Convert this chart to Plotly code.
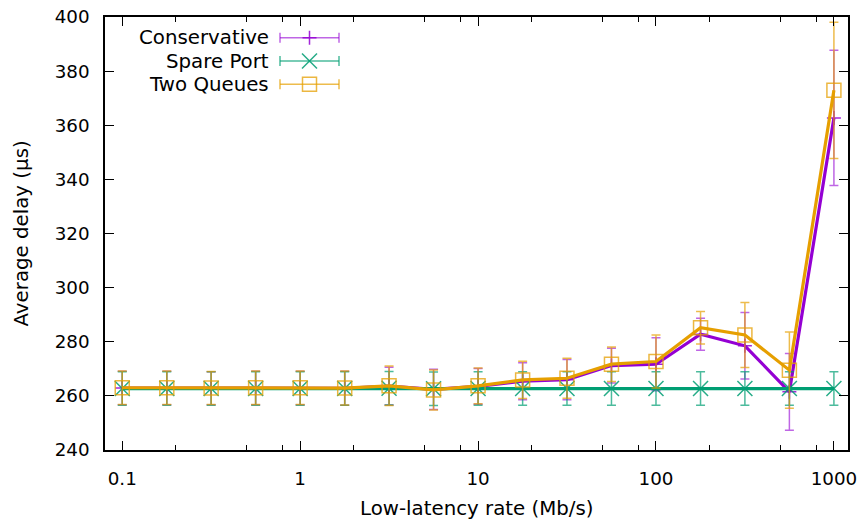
import plotly.graph_objects as go

# ---- data ----
rates = [0.1, 0.178, 0.316, 0.562, 1, 1.78, 3.16, 5.62, 10, 17.8, 31.6, 56.2,
         100, 178, 316, 562, 1000]

conservative = [262.9, 262.9, 262.8, 262.9, 262.9, 262.8, 263.6, 262.4, 263.5,
                265.4, 266.0, 271.2, 271.7, 282.8, 278.5, 261.5, 362.7]
conservative_err = [6.2, 6.2, 6.1, 6.2, 6.2, 6.3, 7.0, 7.4, 6.6,
                    6.8, 7.4, 6.4, 9.8, 5.9, 12.3, 14.2, 25.0]

spare_port = [262.7, 262.7, 262.7, 262.7, 262.7, 262.7, 262.8, 262.6, 262.7,
              262.7, 262.7, 262.7, 262.7, 262.7, 262.7, 262.7, 262.7]
spare_port_err = [6.2, 6.2, 6.2, 6.2, 6.2, 6.2, 6.2, 6.2, 6.2,
                  6.2, 6.2, 6.2, 6.2, 6.2, 6.2, 6.2, 6.2]

two_queues = [263.0, 263.0, 262.9, 263.0, 263.0, 262.9, 263.7, 262.2, 263.7,
              265.9, 266.5, 271.7, 272.7, 285.2, 282.5, 269.5, 372.9]
two_queues_err = [6.2, 6.2, 6.1, 6.2, 6.2, 6.3, 7.3, 7.4, 6.6,
                  6.9, 7.4, 6.4, 9.8, 6.0, 12.0, 14.1, 25.2]

series_names = ["Conservative", "Spare Port", "Two Queues"]
x_tickvals = [0.1, 1, 10, 100, 1000]
x_ticktext = ["0.1", "1", "10", "100", "1000"]
x_minor = [0.2, 0.5, 0.8, 2, 5, 8, 20, 50, 80, 200, 500, 800]
y_tickvals = [240, 260, 280, 300, 320, 340, 360, 380, 400]

# ---- styles ----
FONT = "DejaVu Sans"
FS = 19.8
TFS = 18.3
styles = [
    dict(line="#9400d3", err="rgba(148,0,211,0.6)", mark="rgba(148,0,211,0.85)",
         symbol="cross-thin", size=10),
    dict(line="#009e73", err="rgba(0,158,115,0.7)", mark="rgba(0,158,115,0.85)",
         symbol="x-thin", size=15),
    dict(line="#e69f00", err="rgba(230,159,0,0.7)", mark="rgba(230,159,0,0.75)",
         symbol="square-open", size=14),
]
values = [conservative, spare_port, two_queues]
errors = [conservative_err, spare_port_err, two_queues_err]

fig = go.Figure()
for name, v, e, s in zip(series_names, values, errors, styles):
    fig.add_trace(go.Scatter(
        x=rates, y=v, name=name, mode="lines+markers",
        line=dict(color=s["line"], width=3.2),
        marker=dict(symbol=s["symbol"], size=s["size"], color=s["mark"],
                    line=dict(color=s["mark"], width=1.5)),
        error_y=dict(type="data", array=e, visible=True, color=s["err"],
                     thickness=1.5, width=4.5),
        showlegend=False,
    ))

# ---- geometry (body margin removed in post_script) ----
W, H = 861, 519
PL, PR, PT, PB = 105, 848, 17, 450      # plot area in screen pixels
L, R, T, B = PL, W - PR, PT, H - PB
pw, ph = PR - PL, PB - PT
def px(xp):
    return (xp - PL) / pw
def py(yp):
    return (PB - yp) / ph

text_x = px(271)
line_x0, line_x1 = px(280), px(339)
mid_x = (line_x0 + line_x1) / 2
rows = [37.7, 61.0, 84.3]
cap = 5 / ph

shapes = []
for s, ry in zip(styles, rows):
    yy = py(ry)
    shapes.append(dict(type="line", xref="paper", yref="paper",
                       x0=line_x0, x1=line_x1, y0=yy, y1=yy,
                       line=dict(color=s["err"], width=1.5)))
    for xx in (line_x0, line_x1):
        shapes.append(dict(type="line", xref="paper", yref="paper",
                           x0=xx, x1=xx, y0=yy - cap, y1=yy + cap,
                           line=dict(color=s["err"], width=1.5)))
    fig.add_trace(go.Scatter(
        x=[mid_x], y=[yy], xaxis="x2", yaxis="y2", mode="markers",
        marker=dict(symbol=s["symbol"], size=s["size"], color=s["mark"],
                    line=dict(color=s["mark"], width=1.5)),
        showlegend=False, hoverinfo="skip"))

annotations = []
for name, ry in zip(series_names, rows):
    annotations.append(dict(text=name, xref="paper", yref="paper",
                            x=text_x, y=py(ry), xanchor="right", yanchor="middle",
                            showarrow=False, font=dict(family=FONT, size=FS, color="black")))
annotations.append(dict(text="Low-latency rate (Mb/s)", xref="paper", yref="paper",
                        x=0.5, y=py(508), xanchor="center", yanchor="middle",
                        showarrow=False, font=dict(family=FONT, size=FS, color="black")))
annotations.append(dict(text="Average delay (µs)", xref="paper", yref="paper",
                        x=px(21), y=0.5, xanchor="center", yanchor="middle",
                        textangle=-90, showarrow=False,
                        font=dict(family=FONT, size=FS, color="black")))

fig.update_layout(
    width=W, height=H,
    margin=dict(l=L, r=R, t=T, b=B, pad=0, autoexpand=False),
    paper_bgcolor="white", plot_bgcolor="white",
    font=dict(family=FONT, size=FS, color="black"),
    shapes=shapes, annotations=annotations,
    xaxis=dict(type="log", range=[-1.09691, 3.07918], automargin=False,
               tickmode="array", tickvals=x_tickvals, ticktext=x_ticktext,
               tickfont=dict(family=FONT, size=TFS, color="black"),
               ticks="inside", ticklen=9, tickwidth=1, tickcolor="black",
               minor=dict(tickmode="array", tickvals=x_minor, ticks="inside",
                          ticklen=5, tickwidth=1, tickcolor="black", showgrid=False),
               showline=True, linecolor="black", linewidth=1.5, mirror="allticks",
               showgrid=False, zeroline=False, ticklabelstandoff=11,
               ticklabeloverflow="allow"),
    yaxis=dict(range=[240, 400], tickmode="array", tickvals=y_tickvals,
               automargin=False,
               tickfont=dict(family=FONT, size=TFS, color="black"),
               ticks="inside", ticklen=9, tickwidth=1, tickcolor="black",
               showline=True, linecolor="black", linewidth=1.5, mirror="allticks",
               showgrid=False, zeroline=False, ticklabelstandoff=10,
               ticklabeloverflow="allow"),
    xaxis2=dict(range=[0, 1], overlaying="x", visible=False, fixedrange=True,
                automargin=False),
    yaxis2=dict(range=[0, 1], overlaying="y", visible=False, fixedrange=True,
                automargin=False),
)

fig.write_html("out.html",
               config={"displayModeBar": False},
               post_script="document.body.style.margin='0';"
                           "document.body.style.overflow='hidden';")
